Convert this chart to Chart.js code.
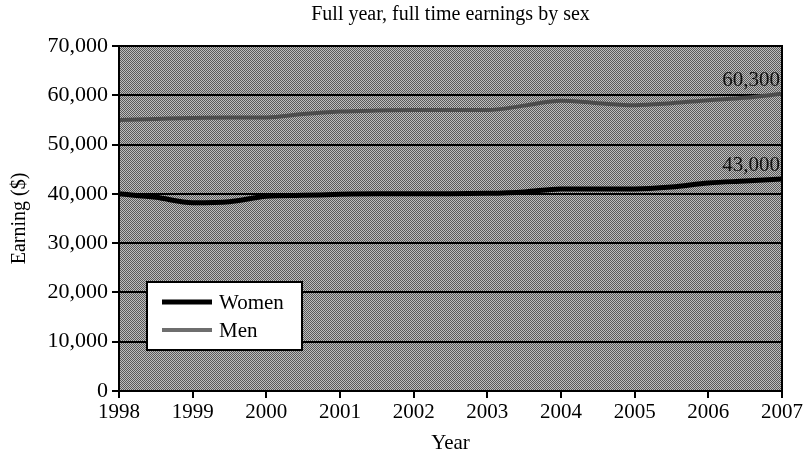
<!DOCTYPE html>
<html>
<head>
<meta charset="utf-8">
<script src="https://cdn.jsdelivr.net/npm/chart.js@4/dist/chart.umd.min.js"></script>
<style>
  html, body { margin: 0; padding: 0; background: #ffffff; }
  #wrap { width: 805px; height: 456px; position: relative; }
</style>
</head>
<body>
<div id="wrap"><canvas id="c" width="805" height="456"></canvas></div>
<script>
const chartTitle = "Full year, full time earnings by sex";
const xTitle = "Year";
const yTitle = "Earning ($)";
const years = [1998, 1998.5, 1999, 1999.5, 2000, 2000.5, 2001, 2001.5, 2002, 2002.5, 2003, 2003.5, 2004, 2004.5, 2005, 2005.5, 2006, 2006.5, 2007];
const women = [40000, 39300, 38200, 38400, 39500, 39700, 39900, 40000, 40000, 40000, 40100, 40400, 41000, 41000, 41000, 41400, 42200, 42600, 43000];
const men = [55000, 55200, 55400, 55500, 55500, 56200, 56700, 56900, 57000, 57000, 57000, 57900, 58900, 58400, 58000, 58400, 59000, 59500, 60300];
const seriesNames = ["Women", "Men"];
const endLabels = ["43,000", "60,300"];

const SERIF = "'Liberation Serif', 'Times New Roman', serif";

function makePattern(ctx) {
  const p = document.createElement('canvas');
  p.width = 4; p.height = 4;
  const pc = p.getContext('2d');
  const dark = '#5a5a5a', light = '#bebebe';
  for (let y = 0; y < 4; y++) for (let x = 0; x < 4; x++) {
    pc.fillStyle = ((x + y) % 2 === 0) ? dark : light;
    pc.fillRect(x, y, 1, 1);
  }
  return ctx.createPattern(p, 'repeat');
}

const bgPlugin = {
  id: 'bgPlugin',
  beforeDraw(chart) {
    const { ctx, chartArea: a } = chart;
    ctx.save();
    ctx.fillStyle = makePattern(ctx);
    ctx.fillRect(a.left, a.top, a.right - a.left, a.bottom - a.top);
    ctx.restore();
  },
  afterDatasetsDraw(chart) {
    const { ctx, chartArea: a } = chart;
    ctx.save();
    // plot border
    ctx.strokeStyle = '#000';
    ctx.lineWidth = 2;
    ctx.strokeRect(a.left, a.top, a.right - a.left, a.bottom - a.top);
    // end labels
    ctx.font = "21px " + SERIF;
    ctx.fillStyle = '#111';
    ctx.textAlign = 'right';
    ctx.textBaseline = 'bottom';
    chart.data.datasets.forEach((ds, i) => {
      const meta = chart.getDatasetMeta(i);
      const pt = meta.data[meta.data.length - 1];
      ctx.fillText(endLabels[i], pt.x - 2, pt.y - 3);
    });
    // legend box
    const bx = a.left + 28, by = a.top + 236, bw = 155, bh = 68;
    ctx.fillStyle = '#fff';
    ctx.fillRect(bx, by, bw, bh);
    ctx.strokeStyle = '#000';
    ctx.lineWidth = 2;
    ctx.strokeRect(bx, by, bw, bh);
    const rows = [by + 20, by + 48];
    chart.data.datasets.forEach((ds, i) => {
      ctx.strokeStyle = i === 0 ? '#000' : '#6e6e6e';
      ctx.lineWidth = i === 0 ? 5 : 4;
      ctx.beginPath();
      ctx.moveTo(bx + 15, rows[i]);
      ctx.lineTo(bx + 65, rows[i]);
      ctx.stroke();
      ctx.fillStyle = '#000';
      ctx.textAlign = 'left';
      ctx.textBaseline = 'middle';
      ctx.font = "21px " + SERIF;
      ctx.fillText(ds.label, bx + 72, rows[i] + 1);
    });
    ctx.restore();
  }
};

const ctx = document.getElementById('c').getContext('2d');
new Chart(ctx, {
  type: 'line',
  data: {
    datasets: [
      {
        label: seriesNames[0],
        data: years.map((x, i) => ({ x: x, y: women[i] })),
        borderColor: '#000',
        borderWidth: 5,
        pointRadius: 0,
        cubicInterpolationMode: 'monotone',
        fill: false
      },
      {
        label: seriesNames[1],
        data: years.map((x, i) => ({ x: x, y: men[i] })),
        borderColor: '#4c4c4c',
        borderWidth: 4,
        pointRadius: 0,
        cubicInterpolationMode: 'monotone',
        fill: false
      }
    ]
  },
  options: {
    responsive: false,
    animation: false,
    devicePixelRatio: 1,
    layout: { padding: { left: 0, right: 22, top: 0, bottom: 0 } },
    plugins: {
      legend: { display: false },
      tooltip: { enabled: false },
      title: {
        display: true,
        text: chartTitle,
        fullSize: false,
        color: '#000',
        font: { family: SERIF, size: 20, weight: 'normal' },
        padding: { top: 3, bottom: 19 }
      }
    },
    scales: {
      x: {
        type: 'linear',
        min: 1998,
        max: 2007,
        ticks: {
          stepSize: 1,
          color: '#000',
          font: { family: SERIF, size: 21 },
          padding: 2,
          maxRotation: 0,
          callback: v => String(v)
        },
        grid: { drawOnChartArea: false, drawTicks: true, tickLength: 7, color: '#000', lineWidth: 2 },
        border: { display: true, color: '#000', width: 2 },
        title: {
          display: true,
          text: xTitle,
          color: '#000',
          font: { family: SERIF, size: 21 },
          padding: { top: 8, bottom: 0 }
        },
        afterFit(scale) { scale.height = 65; }
      },
      y: {
        min: 0,
        max: 70000,
        ticks: {
          stepSize: 10000,
          color: '#000',
          font: { family: SERIF, size: 22 },
          padding: 4,
          callback: v => v.toLocaleString('en-US')
        },
        grid: { drawTicks: true, tickLength: 7, color: '#000', lineWidth: 2 },
        border: { display: true, color: '#000', width: 2 },
        title: {
          display: true,
          text: yTitle,
          color: '#000',
          font: { family: SERIF, size: 20 },
          padding: { top: 8, bottom: 4 }
        },
        afterFit(scale) { scale.width = 119; }
      }
    }
  },
  plugins: [bgPlugin]
});
</script>
</body>
</html>
